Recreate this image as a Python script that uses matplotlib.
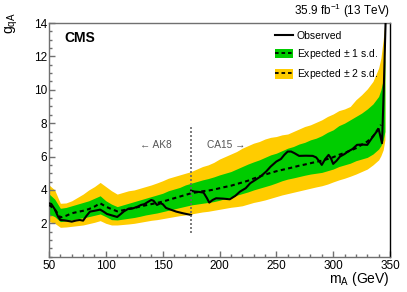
import matplotlib
matplotlib.use("Agg")
import matplotlib.pyplot as plt
from matplotlib.lines import Line2D
from matplotlib.patches import Patch
from matplotlib.ticker import MultipleLocator

plt.rcParams['font.family'] = ['Liberation Sans', 'DejaVu Sans']
plt.rcParams['mathtext.default'] = 'regular'

# ---------------- data ----------------
mass_band = [50, 55, 60, 65, 70, 75, 80, 85, 90, 95, 100, 105, 110, 115, 120, 125, 130,
             135, 140, 145, 150, 155, 160, 165, 170, 175, 180, 185, 190, 195, 200, 205,
             210, 215, 220, 225, 230, 235, 240, 245, 250, 255, 260, 265, 270, 275, 280,
             285, 290, 295, 300, 305, 310, 315, 320, 325, 330, 335, 340, 342, 344, 345.5]

up2 = [4.3, 4.0, 3.2, 3.22, 3.35, 3.55, 3.75, 4.0, 4.2, 4.45, 4.2, 3.95, 3.75, 3.85, 3.95,
       4.0, 4.1, 4.2, 4.3, 4.42, 4.55, 4.7, 4.8, 4.9, 5.0, 5.1, 5.25, 5.4, 5.5, 5.65, 5.85,
       6.0, 6.15, 6.3, 6.5, 6.65, 6.8, 6.9, 7.05, 7.15, 7.2, 7.3, 7.35, 7.5, 7.65, 7.8, 7.9,
       8.05, 8.2, 8.4, 8.55, 8.75, 8.85, 9.0, 9.4, 9.7, 10.05, 10.5, 11.3, 11.9, 13.0, 14.0]

up1 = [3.76, 3.45, 2.9, 2.95, 3.05, 3.15, 3.25, 3.35, 3.5, 3.65, 3.35, 3.15, 3.0, 3.1, 3.2,
       3.3, 3.4, 3.5, 3.6, 3.7, 3.8, 3.95, 4.05, 4.15, 4.3, 4.4, 4.5, 4.6, 4.68, 4.78, 4.9,
       5.0, 5.1, 5.25, 5.4, 5.55, 5.68, 5.8, 5.95, 6.1, 6.2, 6.35, 6.5, 6.6, 6.75, 6.85, 7.0,
       7.1, 7.25, 7.45, 7.6, 7.85, 8.0, 8.2, 8.4, 8.6, 8.85, 9.15, 9.6, 10.0, 10.6, 12.0]

dn1 = [2.56, 2.4, 2.1, 2.15, 2.2, 2.28, 2.33, 2.4, 2.48, 2.56, 2.4, 2.22, 2.2, 2.25, 2.3,
       2.35, 2.42, 2.5, 2.56, 2.62, 2.7, 2.78, 2.86, 2.94, 3.02, 3.1, 3.15, 3.2, 3.25, 3.3,
       3.38, 3.48, 3.58, 3.68, 3.78, 3.88, 4.0, 4.1, 4.2, 4.3, 4.42, 4.55, 4.65, 4.72, 4.8,
       4.88, 4.95, 5.0, 5.05, 5.15, 5.25, 5.4, 5.5, 5.6, 5.75, 5.85, 5.95, 6.15, 6.45, 6.65,
       7.0, 7.5]

dn2 = [2.1, 2.0, 1.76, 1.78, 1.82, 1.86, 1.9, 1.98, 2.06, 2.16, 2.0, 1.9, 1.9, 1.93, 1.96,
       2.0, 2.06, 2.12, 2.18, 2.22, 2.28, 2.34, 2.4, 2.46, 2.5, 2.56, 2.62, 2.68, 2.72, 2.78,
       2.84, 2.9, 2.96, 3.0, 3.05, 3.15, 3.25, 3.32, 3.4, 3.5, 3.6, 3.7, 3.78, 3.86, 3.94,
       4.02, 4.1, 4.18, 4.25, 4.35, 4.48, 4.6, 4.7, 4.82, 4.95, 5.1, 5.25, 5.5, 5.8, 6.05,
       6.4, 7.0]

mass_exp = mass_band[:-2]
expected = [3.1, 2.85, 2.35, 2.45, 2.6, 2.68, 2.75, 2.85, 3.0, 3.2, 3.0, 2.85, 2.72, 2.78,
            2.85, 2.92, 3.0, 3.08, 3.15, 3.22, 3.3, 3.4, 3.5, 3.6, 3.7, 3.8, 3.86, 3.92,
            3.96, 4.02, 4.1, 4.18, 4.25, 4.35, 4.45, 4.55, 4.68, 4.8, 4.92, 5.02, 5.12, 5.2,
            5.28, 5.36, 5.45, 5.52, 5.6, 5.68, 5.75, 5.85, 5.96, 6.1, 6.22, 6.35, 6.5, 6.7,
            6.9, 7.2, 7.7, 7.9]

mass_obs_ak8 = [50, 52, 55, 58, 60, 63, 66, 70, 74, 77, 80, 83, 86, 90, 95, 98, 101, 105,
                110, 113, 116, 120, 124, 128, 131, 134, 137, 140, 142, 145, 148, 150, 153,
                157, 162, 168, 175]
obs_ak8 = [3.2, 3.16, 2.85, 2.4, 2.2, 2.18, 2.15, 2.1, 2.17, 2.2, 2.16, 2.45, 2.7, 2.75,
           2.82, 2.7, 2.56, 2.48, 2.38, 2.55, 2.72, 2.88, 2.9, 3.0, 3.1, 3.15, 3.28, 3.4,
           3.35, 3.1, 3.2, 3.15, 2.92, 2.82, 2.7, 2.6, 2.5]

mass_obs_ca15 = [175, 178, 182, 186, 189, 191, 194, 197, 203, 209, 214, 218, 223, 227, 232,
                 236, 241, 245, 250, 254, 257, 260, 263, 266, 270, 276, 282, 285, 288, 290,
                 293, 296, 298, 300, 303, 306, 310, 313, 317, 321, 325, 330, 335, 340, 343,
                 344.5, 346.5]
obs_ca15 = [3.96, 3.9, 3.88, 3.84, 3.5, 3.24, 3.4, 3.5, 3.48, 3.44, 3.65, 3.9, 4.1, 4.4,
            4.62, 4.8, 5.1, 5.4, 5.7, 5.85, 6.1, 6.3, 6.3, 6.2, 6.04, 6.05, 6.04, 5.95, 5.7,
            5.5, 5.85, 6.1, 5.9, 5.56, 5.75, 6.0, 6.15, 6.3, 6.45, 6.7, 6.72, 6.7, 7.2, 7.65,
            6.8, 10.0, 15.0]

split_mass = 175
split_range = [1.4, 7.75]

# ---------------- figure ----------------
fig = plt.figure(figsize=(4.07, 2.92), dpi=100)
ax = fig.add_axes([49 / 407, 1 - 256.7 / 292, 341 / 407, 233.7 / 292])

yellow = '#ffcc00'
green = '#00cc00'

ax.fill_between(mass_band, dn2, up2, color=yellow, lw=0, zorder=1)
ax.fill_between(mass_band, dn1, up1, color=green, lw=0, zorder=2)
ax.plot(mass_exp, expected, color='black', lw=1.5, ls=(0, (2.0, 1.6)), zorder=3)
ax.plot(mass_obs_ak8, obs_ak8, color='black', lw=1.5, zorder=4)
ax.plot(mass_obs_ca15, obs_ca15, color='black', lw=1.5, zorder=4)
ax.plot([split_mass, split_mass], split_range, color='#666666', lw=1.2,
        ls=(0, (1.2, 1.2)), zorder=5)

ax.set_xlim(50, 350)
ax.set_ylim(0, 14)

ax.xaxis.set_major_locator(MultipleLocator(50))
ax.xaxis.set_minor_locator(MultipleLocator(10))
ax.yaxis.set_major_locator(MultipleLocator(2))
ax.yaxis.set_minor_locator(MultipleLocator(0.5))
ax.set_yticks([2, 4, 6, 8, 10, 12, 14])

spine_col = '#707070'
for s in ['left', 'bottom', 'top']:
    ax.spines[s].set_color(spine_col)
    ax.spines[s].set_linewidth(1.0)
ax.spines['right'].set_color('black')
ax.spines['right'].set_linewidth(1.0)

ax.tick_params(which='both', direction='in', color=spine_col, top=False, right=False,
               labelsize=8.5, labelcolor='black')
ax.tick_params(which='major', length=4.5, width=1.0)
ax.tick_params(which='minor', length=2.2, width=1.0)
ax.tick_params(axis='x', which='major', pad=2.4)
ax.tick_params(axis='y', which='major', pad=1.5)

ax.set_xlabel('m$_{A}$ (GeV)', fontsize=10, ha='right', va='top')
ax.xaxis.set_label_coords(1.0, -0.058)
ax.set_ylabel('g$_{qA}$', fontsize=10, ha='right', va='bottom')
ax.yaxis.set_label_coords(-0.085, 1.045)

ax.text(1.0, 1.012, '35.9 fb$^{-1}$ (13 TeV)', transform=ax.transAxes, ha='right',
        va='bottom', fontsize=8.5)
ax.text(0.044, 0.936, 'CMS', transform=ax.transAxes, ha='left', va='center',
        fontsize=10, fontweight='bold')
ax.text(158, 6.7, '\u2190 AK8', ha='right', va='center', fontsize=7.3, color='#555555')
ax.text(189, 6.7, 'CA15 \u2192', ha='left', va='center', fontsize=7.3, color='#555555')

h_obs = Line2D([], [], color='black', lw=1.5)
h_1s = (Patch(facecolor=green, edgecolor='none'),
        Line2D([], [], color='black', lw=1.3, ls=(0, (2.0, 1.6))))
h_2s = (Patch(facecolor=yellow, edgecolor='none'),
        Line2D([], [], color='black', lw=1.3, ls=(0, (2.0, 1.6))))
leg = ax.legend([h_obs, h_1s, h_2s],
                ['Observed', 'Expected $\\pm$ 1 s.d.', 'Expected $\\pm$ 2 s.d.'],
                loc='upper left', bbox_to_anchor=(0.663, 0.967), frameon=False,
                fontsize=7.5, handlelength=1.73, handleheight=1.06, handletextpad=0.36,
                labelspacing=0.58, borderpad=0, borderaxespad=0)

fig.savefig('out.png', dpi=100)
